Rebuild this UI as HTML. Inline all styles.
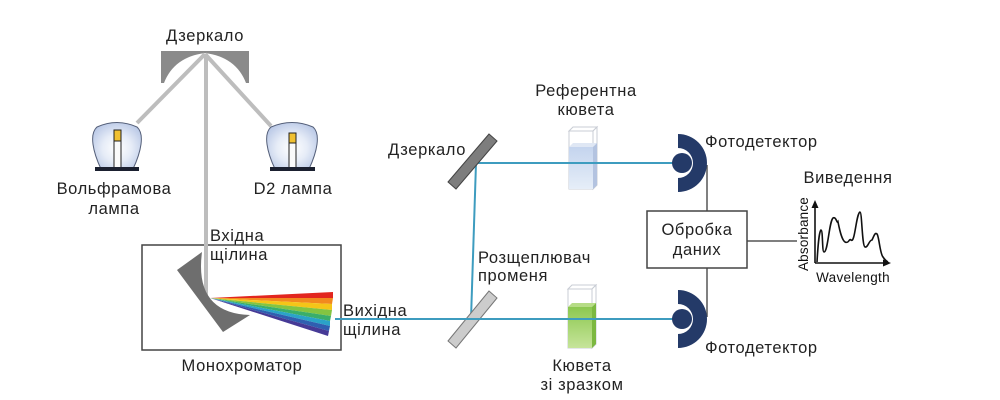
<!DOCTYPE html>
<html><head><meta charset="utf-8"><style>
html,body{margin:0;padding:0;background:#fff;}
svg{display:block;}
text{font-family:"Liberation Sans",sans-serif;fill:#222;font-size:16.5px;letter-spacing:0.6px;}
</style></head><body>
<svg width="1000" height="400" viewBox="0 0 1000 400" xmlns="http://www.w3.org/2000/svg">
<defs>
<radialGradient id="bulb" cx="50%" cy="55%" r="60%">
<stop offset="0" stop-color="#ffffff"/><stop offset="0.5" stop-color="#e6ecf7"/><stop offset="1" stop-color="#b9c8e6"/>
</radialGradient>
<linearGradient id="blueliq" x1="0" y1="0" x2="0" y2="1">
<stop offset="0" stop-color="#c4d4ee"/><stop offset="1" stop-color="#e6eef8"/>
</linearGradient>
<linearGradient id="greenliq" x1="0" y1="0" x2="0" y2="1">
<stop offset="0" stop-color="#8cc850"/><stop offset="1" stop-color="#c6e49a"/>
</linearGradient>
</defs>

<!-- top mirror -->
<path d="M161,51 L249,51 L249,83 L246,83 Q236,57 205,53 Q174,57 164,83 L161,83 Z" fill="#8a8a8a"/>
<!-- grey beams -->
<g stroke="#bdbdbd" stroke-width="4" fill="none">
<line x1="205" y1="54" x2="137" y2="123"/>
<line x1="205" y1="54" x2="271" y2="126"/>
<line x1="206" y1="54" x2="206" y2="298"/>
</g>

<!-- tungsten lamp -->
<path d="M101,169 C93,152 89,134 97,127 Q117,118 137,127 C145,134 141,152 133,169 Z" fill="url(#bulb)" stroke="#55607a" stroke-width="1"/>
<rect x="114" y="130" width="7" height="39" fill="#fafafa" stroke="#222" stroke-width="1"/>
<rect x="114" y="130" width="7" height="11" fill="#f0c030" stroke="#222" stroke-width="1"/>
<rect x="95" y="167" width="44" height="4" fill="#1b2030"/>

<!-- D2 lamp -->
<path d="M275,169 C267,152 263,134 271,127 Q292,118 313,127 C321,134 317,152 309,169 Z" fill="url(#bulb)" stroke="#55607a" stroke-width="1"/>
<rect x="289" y="133" width="7" height="36" fill="#fafafa" stroke="#222" stroke-width="1"/>
<rect x="289" y="133" width="7" height="10" fill="#f0c030" stroke="#222" stroke-width="1"/>
<rect x="270" y="167" width="45" height="4" fill="#1b2030"/>

<text x="205" y="41" text-anchor="middle">Дзеркало</text>
<text x="114" y="194" text-anchor="middle">Вольфрамова</text>
<text x="114" y="214" text-anchor="middle">лампа</text>
<text x="293" y="194" text-anchor="middle">D2 лампа</text>

<!-- monochromator -->
<rect x="142" y="245" width="199" height="105" fill="none" stroke="#444" stroke-width="1.5"/>
<line x1="206" y1="244" x2="206" y2="298" stroke="#bdbdbd" stroke-width="4"/>
<path d="M202,252 L177,270 L223,332 L250,315 Q194,313 202,252 Z" fill="#6e6e6e"/>
<!-- rainbow -->
<g>
<polygon points="210,298 333,292 333,298" fill="#e2261f"/>
<polygon points="210,298 333,298 332,304" fill="#f28a1e"/>
<polygon points="210,298 332,304 332,310" fill="#f5c518"/>
<polygon points="210,298 332,310 331,316" fill="#84c441"/>
<polygon points="210,298 331,316 330,321" fill="#3aae6a"/>
<polygon points="210,298 330,321 330,326" fill="#2aa3c8"/>
<polygon points="210,298 330,326 329,331" fill="#2f5fb0"/>
<polygon points="210,298 329,331 328,336" fill="#463a96"/>
</g>
<text x="210" y="241">Вхідна</text>
<text x="210" y="260">щілина</text>
<text x="343" y="316">Вихідна</text>
<text x="343" y="335">щілина</text>
<text x="242" y="371" text-anchor="middle">Монохроматор</text>

<!-- blue beams -->
<g stroke="#3d9cbf" stroke-width="2" fill="none">
<line x1="335" y1="319" x2="678" y2="319"/>
<line x1="471" y1="319" x2="476" y2="163"/>
<line x1="476" y1="163" x2="678" y2="163"/>
</g>

<!-- mirror -->
<polygon points="489,134 497,141 456,189 448,182" fill="#7d7d7d" stroke="#444" stroke-width="1"/>
<text x="466" y="155" text-anchor="end">Дзеркало</text>

<!-- splitter -->
<polygon points="489,291 497,298 456,348 448,341" fill="#cccccc" stroke="#777" stroke-width="1"/>
<line x1="445" y1="319" x2="498" y2="319" stroke="#3d9cbf" stroke-width="2"/>
<text x="478" y="263">Розщеплювач</text>
<text x="478" y="281">променя</text>

<!-- reference cuvette -->
<g>
<polygon points="569,131 573,127 597,127 593,131" fill="#fff" stroke="#c8ccd4" stroke-width="1"/>
<rect x="569" y="131" width="24" height="58" fill="#fff" stroke="#c8ccd4" stroke-width="1"/>
<polygon points="593,131 597,127 597,185 593,189" fill="#fff" stroke="#c8ccd4" stroke-width="1"/>
<polygon points="569,147 573,143 597,143 593,147" fill="#dfe7f4"/>
<rect x="569" y="147" width="24" height="42" fill="url(#blueliq)"/>
<polygon points="593,147 597,143 597,185 593,189" fill="#b3c3e0"/>
</g>
<line x1="560" y1="163" x2="610" y2="163" stroke="#3d9cbf" stroke-width="2"/>
<text x="586" y="96" text-anchor="middle">Референтна</text>
<text x="586" y="115" text-anchor="middle">кювета</text>

<!-- sample cuvette -->
<g>
<polygon points="568,289 572,285 596,285 592,289" fill="#fff" stroke="#c8ccd4" stroke-width="1"/>
<rect x="568" y="289" width="24" height="59" fill="#fff" stroke="#c8ccd4" stroke-width="1"/>
<polygon points="592,289 596,285 596,344 592,348" fill="#fff" stroke="#c8ccd4" stroke-width="1"/>
<polygon points="568,307 572,303 596,303 592,307" fill="#b6dc86"/>
<rect x="568" y="307" width="24" height="41" fill="url(#greenliq)"/>
<polygon points="592,307 596,303 596,344 592,348" fill="#7cb840"/>
</g>
<line x1="560" y1="319" x2="610" y2="319" stroke="#3d9cbf" stroke-width="2"/>
<text x="582" y="371" text-anchor="middle">Кювета</text>
<text x="582" y="390" text-anchor="middle">зі зразком</text>

<!-- connectors -->
<g stroke="#555" stroke-width="1.5" fill="none">
<line x1="707" y1="165" x2="707" y2="211"/>
<line x1="707" y1="268" x2="707" y2="317"/>
<line x1="747" y1="241" x2="797" y2="241"/>
</g>

<!-- detectors -->
<path d="M678,134 A29,29 0 0 1 678,192 L678,178 A15,15 0 0 0 678,148 Z" fill="#243a68"/>
<circle cx="682" cy="163" r="10" fill="#243a68"/>
<path d="M678,290 A29,29 0 0 1 678,348 L678,334 A15,15 0 0 0 678,304 Z" fill="#243a68"/>
<circle cx="682" cy="319" r="10" fill="#243a68"/>
<text x="705" y="147">Фотодетектор</text>
<text x="705" y="353">Фотодетектор</text>

<!-- processing box -->
<rect x="647" y="211" width="100" height="57" fill="#fff" stroke="#444" stroke-width="1.5"/>
<text x="697" y="235" text-anchor="middle">Обробка</text>
<text x="697" y="255" text-anchor="middle">даних</text>

<!-- output graph -->
<text x="848" y="183" text-anchor="middle">Виведення</text>
<g stroke="#111" stroke-width="1.6" fill="#111">
<line x1="815" y1="206" x2="815" y2="263" />
<line x1="815" y1="263" x2="886" y2="263" />
<polygon points="815,200 811.5,208 818.5,208" stroke="none"/>
<polygon points="891,263 883,259.5 883,266.5" stroke="none"/>
</g>
<path d="M817,262 C818,245 819,232 821,230 C823,230 822,252 824,252 C828,252 829,222 833,218 C836,216 837,224 838,222 C840,232 842,240 845,242 C849,244 849,238 851,240 C855,244 856,214 860,212 C862,212 862,246 865,247 C868,248 869,240 872,240 C874,236 875,232 877,234 C879,236 880,254 883,257 C885,260 886,261 888,262" fill="none" stroke="#111" stroke-width="1.6"/>
<text x="0" y="0" transform="translate(808,234) rotate(-90)" text-anchor="middle" style="font-size:13.5px;fill:#111;letter-spacing:0.2px;">Absorbance</text>
<text x="853" y="282" text-anchor="middle" style="font-size:13.5px;fill:#111;letter-spacing:0.3px;">Wavelength</text>
</svg>
</body></html>
